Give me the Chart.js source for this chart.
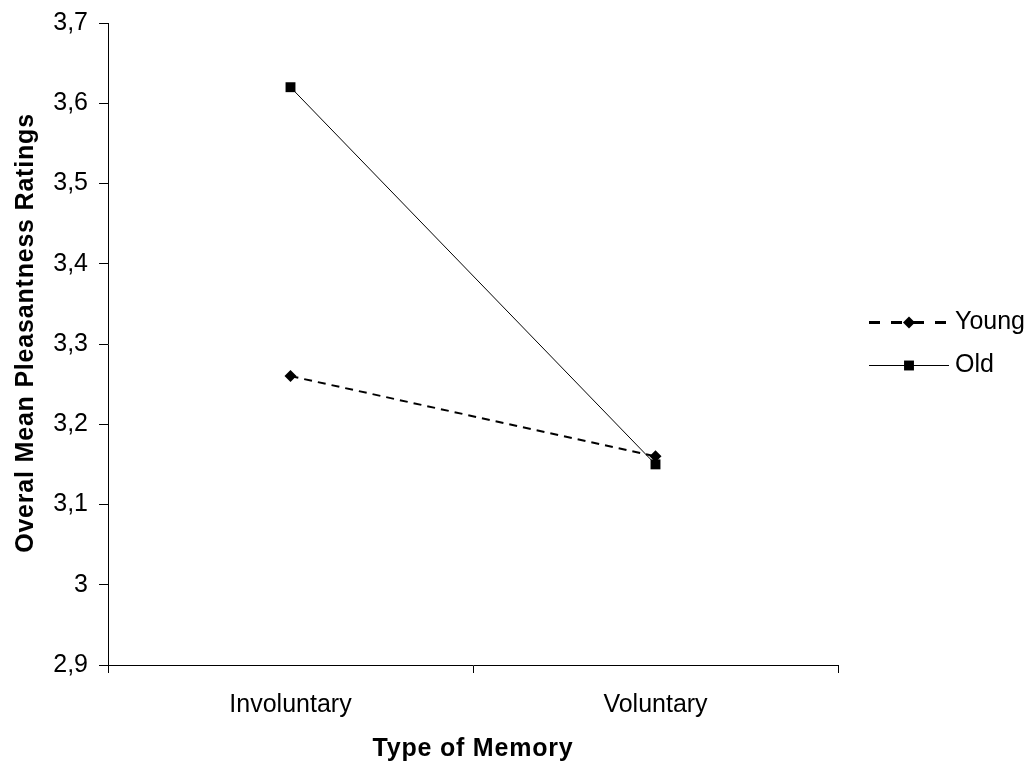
<!DOCTYPE html>
<html>
<head>
<meta charset="utf-8">
<script src="https://cdn.jsdelivr.net/npm/chart.js@4.4.0/dist/chart.umd.min.js"></script>
<style>
  html, body { margin: 0; padding: 0; background: #fff; }
  #wrap { width: 1034px; height: 767px; position: relative; }
</style>
</head>
<body>
<div id="wrap"><canvas id="chart" width="1034" height="767"></canvas></div>
<script>
// chart data
const categories = ['Involuntary', 'Voluntary'];
const youngValues = [3.26, 3.16];
const oldValues = [3.62, 3.15];
const yTickLabels = ['2,9', '3', '3,1', '3,2', '3,3', '3,4', '3,5', '3,6', '3,7'];

const xTitle = 'Type of Memory';
const yTitle = 'Overal Mean Pleasantness Ratings';

const FONT = "'Liberation Sans', Arial, sans-serif";

// Axis titles drawn by hand: the original has slightly spaced-out bold text
const axisTitles = {
  id: 'axisTitles',
  afterDraw(chart) {
    const ctx = chart.ctx;
    const area = chart.chartArea;
    ctx.save();
    ctx.fillStyle = '#000';
    ctx.font = 'bold 25px ' + FONT;
    ctx.letterSpacing = '0.8px';
    ctx.textAlign = 'center';
    ctx.textBaseline = 'alphabetic';
    ctx.fillText(xTitle, (area.left + area.right) / 2, 756);
    ctx.translate(33, 333);
    ctx.rotate(-Math.PI / 2);
    ctx.fillText(yTitle, 0, 0);
    ctx.restore();
  }
};

// Legend to the right, centred on the plot like Excel does it
const sideLegend = {
  id: 'sideLegend',
  afterDraw(chart) {
    const ctx = chart.ctx;
    const area = chart.chartArea;
    const x0 = 869, x1 = 949, xText = 955;
    const step = 43;
    const n = chart.data.datasets.length;
    let y = (area.top + area.bottom) / 2 - step * (n - 1) / 2;
    ctx.save();
    chart.data.datasets.forEach(ds => {
      ctx.beginPath();
      ctx.strokeStyle = ds.borderColor;
      ctx.lineWidth = ds.legendLineWidth;
      ctx.setLineDash(ds.legendDash || []);
      ctx.moveTo(x0, y);
      ctx.lineTo(x1, y);
      ctx.stroke();
      ctx.setLineDash([]);
      ctx.fillStyle = ds.pointBackgroundColor;
      Chart.helpers.drawPoint(ctx, {
        pointStyle: ds.pointStyle,
        radius: ds.pointRadius,
        rotation: 0,
        borderWidth: 0
      }, (x0 + x1) / 2, y);
      ctx.fillStyle = '#000';
      ctx.font = '25px ' + FONT;
      ctx.textBaseline = 'middle';
      ctx.textAlign = 'left';
      ctx.fillText(ds.label, xText, y);
      y += step;
    });
    ctx.restore();
  }
};

const ctx = document.getElementById('chart').getContext('2d');
new Chart(ctx, {
  type: 'line',
  data: {
    labels: categories,
    datasets: [
      {
        label: 'Young',
        data: youngValues,
        borderColor: '#000',
        borderWidth: 2,
        borderDash: [8, 6],
        legendDash: [11, 11],
        legendLineWidth: 3,
        pointStyle: 'rectRot',
        pointRadius: 6,
        pointBackgroundColor: '#000',
        pointBorderWidth: 0,
        tension: 0
      },
      {
        label: 'Old',
        data: oldValues,
        borderColor: '#000',
        borderWidth: 1,
        legendLineWidth: 1,
        pointStyle: 'rect',
        pointRadius: 7,
        pointBackgroundColor: '#000',
        pointBorderWidth: 0,
        tension: 0
      }
    ]
  },
  options: {
    responsive: false,
    animation: false,
    layout: { padding: { top: 23, right: 196, left: 0, bottom: 0 } },
    plugins: {
      legend: { display: false },
      tooltip: { enabled: false }
    },
    scales: {
      x: {
        type: 'category',
        offset: true,
        afterFit: (scale) => { scale.height = 102; },
        grid: {
          display: true,
          offset: true,
          drawOnChartArea: false,
          drawTicks: true,
          tickLength: 8,
          color: '#000'
        },
        border: { color: '#000', width: 1 },
        ticks: { color: '#000', font: { family: FONT, size: 25 }, padding: 17 },
        title: { display: false }
      },
      y: {
        min: 2.9,
        max: 3.7,
        afterFit: (scale) => {
          scale.width = 108;
          scale.paddingTop = 0;
          scale.paddingBottom = 0;
        },
        afterBuildTicks: (scale) => {
          scale.ticks = yTickLabels.map((t, i) => ({ value: 2.9 + i * 0.1 }));
        },
        grid: {
          display: true,
          drawOnChartArea: false,
          drawTicks: true,
          tickLength: 9,
          color: '#000'
        },
        border: { color: '#000', width: 1 },
        ticks: {
          color: '#000',
          font: { family: FONT, size: 25 },
          padding: 11,
          callback: (v, i) => yTickLabels[i]
        },
        title: { display: false }
      }
    }
  },
  plugins: [axisTitles, sideLegend]
});
</script>
</body>
</html>
